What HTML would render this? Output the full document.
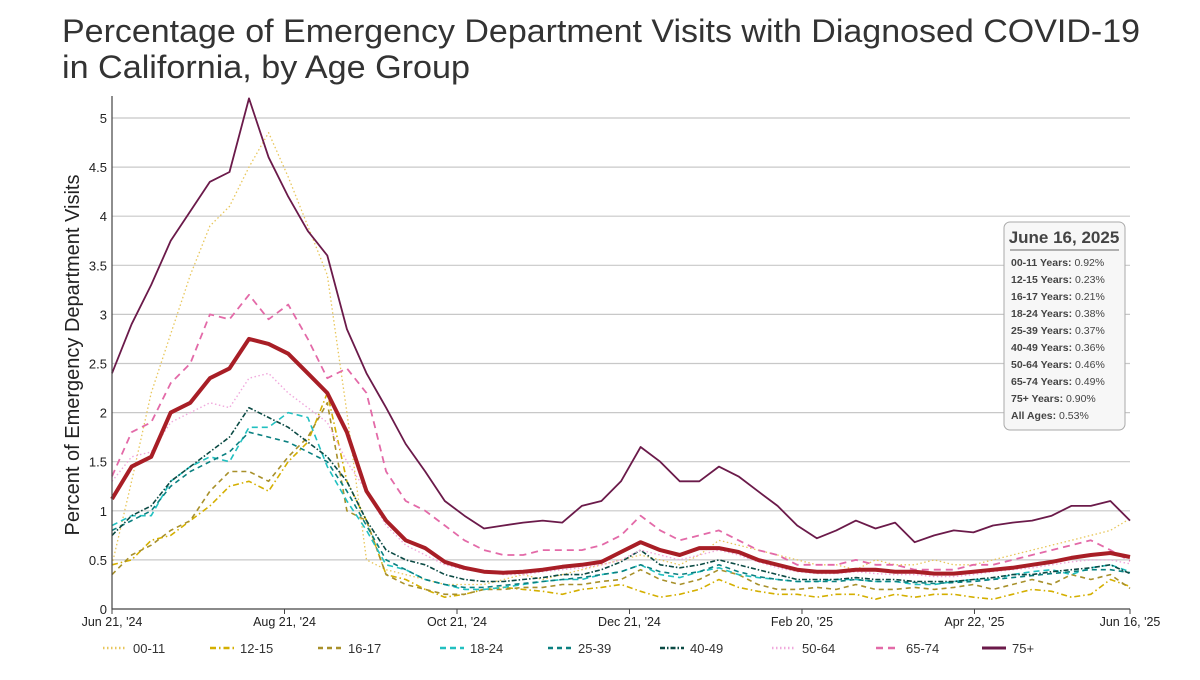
<!DOCTYPE html>
<html><head><meta charset="utf-8"><style>
body{margin:0;background:#fff;width:1200px;height:675px;overflow:hidden;font-family:"Liberation Sans",sans-serif}
</style></head><body>
<svg id="chart" width="1200" height="675" xmlns="http://www.w3.org/2000/svg" font-family="Liberation Sans, sans-serif">
<text x="62" y="42" font-size="32" fill="#333" textLength="1078" lengthAdjust="spacingAndGlyphs">Percentage of Emergency Department Visits with Diagnosed COVID-19</text>
<text x="62" y="78" font-size="32" fill="#333" textLength="408" lengthAdjust="spacingAndGlyphs">in California, by Age Group</text>
<g id="grid"></g><g id="series"></g><g id="axes"></g><g id="legend"></g>
<text transform="translate(79,355) rotate(-90)" text-anchor="middle" font-size="20" fill="#222">Percent of Emergency Department Visits</text>
<g>
<rect x="1004" y="222" width="121" height="208" rx="6" fill="#f7f7f7" stroke="#aaa"/>
<text x="1064" y="243" text-anchor="middle" font-size="17" font-weight="bold" fill="#444">June 16, 2025</text>
<line x1="1010" y1="250" x2="1119" y2="250" stroke="#999" stroke-width="1.5"/>
<g id="tip" font-size="10.5" fill="#444"></g>
</g>
</svg>
<script>
const dates=["Jun 21, '24","Aug 21, '24","Oct 21, '24","Dec 21, '24","Feb 20, '25","Apr 22, '25","Jun 16, '25"];
const dateDays=[0,61,122,183,244,305,360];
const yTicks=[0,0.5,1,1.5,2,2.5,3,3.5,4,4.5,5];
const names=["00-11","12-15","16-17","18-24","25-39","40-49","50-64","65-74","75+"];
const tipLabels=["00-11 Years:","12-15 Years:","16-17 Years:","18-24 Years:","25-39 Years:","40-49 Years:","50-64 Years:","65-74 Years:","75+ Years:","All Ages:"];
const tipValues=["0.92%","0.23%","0.21%","0.38%","0.37%","0.36%","0.46%","0.49%","0.90%","0.53%"];
const s0011=[0.45,1.3,2.2,2.8,3.4,3.9,4.1,4.5,4.85,4.4,3.9,3.4,2.0,0.5,0.4,0.35,0.3,0.25,0.25,0.25,0.3,0.35,0.3,0.35,0.4,0.45,0.5,0.55,0.5,0.45,0.55,0.7,0.65,0.6,0.55,0.5,0.45,0.45,0.4,0.5,0.45,0.45,0.5,0.45,0.45,0.5,0.55,0.6,0.65,0.7,0.75,0.8,0.92];
const s1215=[0.45,0.5,0.7,0.75,0.9,1.05,1.25,1.3,1.2,1.5,1.7,2.2,1.3,0.9,0.35,0.3,0.2,0.12,0.15,0.2,0.22,0.2,0.18,0.15,0.2,0.22,0.25,0.18,0.12,0.15,0.2,0.3,0.22,0.18,0.15,0.15,0.12,0.15,0.15,0.1,0.15,0.12,0.15,0.15,0.12,0.1,0.15,0.2,0.18,0.12,0.15,0.3,0.23];
const s1617=[0.35,0.55,0.65,0.8,0.9,1.2,1.4,1.4,1.3,1.55,1.75,2.1,1.0,0.9,0.35,0.25,0.2,0.15,0.15,0.2,0.2,0.22,0.22,0.25,0.25,0.28,0.3,0.4,0.3,0.25,0.3,0.4,0.35,0.25,0.2,0.2,0.22,0.2,0.25,0.2,0.2,0.22,0.2,0.22,0.25,0.2,0.25,0.3,0.25,0.35,0.3,0.35,0.21];
const s1824=[0.85,0.95,0.95,1.3,1.45,1.55,1.5,1.85,1.85,2.0,1.95,1.45,1.1,0.8,0.45,0.4,0.3,0.25,0.2,0.2,0.22,0.25,0.28,0.3,0.3,0.35,0.38,0.45,0.35,0.32,0.38,0.42,0.35,0.32,0.3,0.28,0.28,0.3,0.3,0.28,0.28,0.25,0.25,0.28,0.3,0.3,0.35,0.38,0.4,0.35,0.42,0.45,0.38];
const s2539=[0.8,0.9,1.0,1.25,1.4,1.5,1.6,1.8,1.75,1.7,1.6,1.5,1.2,0.85,0.5,0.4,0.3,0.25,0.22,0.22,0.24,0.26,0.28,0.3,0.32,0.35,0.38,0.45,0.38,0.35,0.38,0.45,0.38,0.33,0.3,0.28,0.28,0.28,0.3,0.28,0.28,0.27,0.26,0.27,0.28,0.3,0.32,0.34,0.36,0.38,0.4,0.4,0.37];
const s4049=[0.75,0.95,1.05,1.3,1.45,1.6,1.75,2.05,1.95,1.85,1.7,1.55,1.3,0.9,0.6,0.5,0.45,0.35,0.3,0.28,0.28,0.3,0.32,0.35,0.35,0.4,0.48,0.6,0.45,0.42,0.45,0.5,0.45,0.4,0.35,0.3,0.3,0.3,0.32,0.3,0.3,0.28,0.28,0.28,0.3,0.32,0.35,0.35,0.38,0.4,0.42,0.45,0.36];
const s5064=[1.3,1.55,1.6,1.9,2.0,2.1,2.05,2.35,2.4,2.2,2.05,1.9,1.5,1.2,0.85,0.65,0.55,0.45,0.4,0.38,0.35,0.35,0.38,0.4,0.42,0.45,0.5,0.6,0.55,0.5,0.55,0.6,0.55,0.48,0.42,0.38,0.36,0.36,0.38,0.36,0.35,0.35,0.33,0.33,0.35,0.38,0.4,0.42,0.45,0.48,0.5,0.5,0.46];
const s6574=[1.35,1.8,1.9,2.3,2.5,3.0,2.95,3.2,2.95,3.1,2.75,2.35,2.45,2.2,1.4,1.1,1.0,0.85,0.7,0.6,0.55,0.55,0.6,0.6,0.6,0.65,0.75,0.95,0.8,0.7,0.75,0.8,0.7,0.6,0.55,0.45,0.45,0.45,0.5,0.45,0.45,0.4,0.4,0.4,0.45,0.45,0.5,0.55,0.6,0.65,0.7,0.6,0.49];
const s75=[2.4,2.9,3.3,3.75,4.05,4.35,4.45,5.2,4.6,4.2,3.85,3.6,2.85,2.4,2.05,1.68,1.4,1.1,0.95,0.82,0.85,0.88,0.9,0.88,1.05,1.1,1.3,1.65,1.5,1.3,1.3,1.45,1.35,1.2,1.05,0.85,0.72,0.8,0.9,0.82,0.88,0.68,0.75,0.8,0.78,0.85,0.88,0.9,0.95,1.05,1.05,1.1,0.9];
const sAll=[1.12,1.45,1.55,2.0,2.1,2.35,2.45,2.75,2.7,2.6,2.4,2.2,1.8,1.2,0.9,0.7,0.62,0.48,0.42,0.38,0.37,0.38,0.4,0.43,0.45,0.48,0.58,0.68,0.6,0.55,0.62,0.62,0.58,0.5,0.45,0.4,0.38,0.38,0.4,0.4,0.38,0.38,0.36,0.36,0.38,0.4,0.42,0.45,0.48,0.52,0.55,0.57,0.53];

const NS="http://www.w3.org/2000/svg";
const X0=112,X1=1130,Y0=609,YPU=98.2,TOTAL=360;
const xDay=d=>X0+d*(X1-X0)/TOTAL;
const xIdx=(i,n)=>X0+i*(X1-X0)/(n-1);
const yV=v=>Y0-v*YPU;
function mk(tag,attrs,parent){const e=document.createElementNS(NS,tag);for(const k in attrs)e.setAttribute(k,attrs[k]);parent.appendChild(e);return e;}
const grid=document.getElementById('grid'),axes=document.getElementById('axes'),ser=document.getElementById('series'),leg=document.getElementById('legend'),tip=document.getElementById('tip');
yTicks.forEach(v=>{
  if(v>0){const l=mk('line',{x1:X0,x2:X1,y1:yV(v),y2:yV(v),stroke:'#c8c8c8','stroke-width':1.2},grid);
  
  }
  const t=mk('text',{x:X0-5,y:yV(v)+5,'text-anchor':'end','font-size':13,fill:'#222'},axes);t.textContent=v;
  
  
});
const ax=mk('path',{d:`M${X0},96V${Y0}H${X1}`,stroke:'#444','stroke-width':1.2,fill:'none'},axes);


dates.forEach((d,i)=>{
  const x=xDay(dateDays[i]);
  mk('line',{x1:x,x2:x,y1:Y0,y2:Y0+5,stroke:'#444'},axes);
  const t=mk('text',{x:x,y:626,'text-anchor':'middle','font-size':12.5,fill:'#222'},axes);t.textContent=d;
  
  
});
const styles=[
 {d:s0011,c:'#e8c65a',w:1.3,da:'1.5,2.5'},
 {d:s1215,c:'#d4af00',w:1.6,da:'6,3,1.5,3'},
 {d:s1617,c:'#a8902a',w:1.6,da:'5,4'},
 {d:s1824,c:'#22c0c0',w:1.6,da:'6,4'},
 {d:s2539,c:'#0a8080',w:1.6,da:'5,4'},
 {d:s4049,c:'#0b4a44',w:1.6,da:'5,2,1.5,2'},
 {d:s5064,c:'#f0a8dc',w:1.4,da:'1.5,2.5'},
 {d:s6574,c:'#e36aa8',w:1.8,da:'7,5'},
 {d:s75,c:'#6b1a4a',w:1.8,da:''}
];
styles.forEach((s,k)=>{
  const pts=s.d.map((v,i)=>`${xIdx(i,s.d.length).toFixed(1)},${yV(v).toFixed(1)}`).join(' ');
  const p=mk('polyline',{points:pts,fill:'none',stroke:s.c,'stroke-width':s.w,'stroke-dasharray':s.da,'stroke-linejoin':'round'},ser);
  
  
});
const allPts=sAll.map((v,i)=>`${xIdx(i,sAll.length).toFixed(1)},${yV(v).toFixed(1)}`).join(' ');
const pa=mk('polyline',{points:allPts,fill:'none',stroke:'#a81e26','stroke-width':4,'stroke-linejoin':'round'},ser);


const legX=[103,210,318,440,548,660,772,876,982];
styles.forEach((s,k)=>{
  const g=mk('g',{},leg);
  
  
  mk('line',{x1:legX[k],x2:legX[k]+24,y1:648,y2:648,stroke:s.c,'stroke-width':k==8?3:2.5,'stroke-dasharray':s.da},g);
  const t=mk('text',{x:legX[k]+30,y:653,'font-size':13,fill:'#333'},g);t.textContent=names[k];
});
tipLabels.forEach((l,i)=>{
  const t=mk('text',{x:1011,y:266+i*17},tip);
  
  
  const a=mk('tspan',{'font-weight':'bold'},t);a.textContent=l+' ';
  const b=mk('tspan',{},t);b.textContent=tipValues[i];
});
</script>
</body></html>
